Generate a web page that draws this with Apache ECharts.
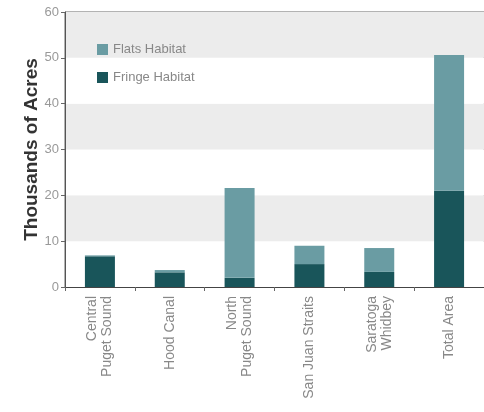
<!DOCTYPE html>
<html>
<head>
<meta charset="utf-8">
<script src="https://cdn.jsdelivr.net/npm/echarts@6/dist/echarts.min.js"></script>
<style>html,body{margin:0;padding:0;background:#fff}#c{width:484px;height:412px}</style>
</head>
<body>
<div id="c"></div>
<script>
var categories = ["Central\nPuget Sound", "Hood Canal", "North\nPuget Sound", "San Juan Straits", "Saratoga\nWhidbey", "Total Area"];
var fringeValues = [6.7, 3.2, 2.0, 5.0, 3.3, 21.0];
var flatsValues = [0.2, 0.5, 19.6, 4.0, 5.2, 29.6];
var yTicks = [0, 10, 20, 30, 40, 50, 60];

var chart = echarts.init(document.getElementById('c'));
chart.setOption({
  animation: false,
  grid: {left: 65, right: -2, top: 12, bottom: 125, show: true, borderColor: '#666', borderWidth: 1, backgroundColor: 'transparent'},
  legend: {
    orient: 'vertical', left: 92, top: 38, itemGap: 15,
    itemWidth: 11, itemHeight: 11, icon: 'rect',
    textStyle: {color: '#888', fontSize: 13, fontFamily: 'Liberation Sans'},
    data: ['Flats Habitat', 'Fringe Habitat']
  },
  xAxis: {
    type: 'category', data: categories,
    axisLine: {lineStyle: {color: '#444', width: 1}},
    axisTick: {show: true, alignWithLabel: false, length: 4, lineStyle: {color: '#666'}},
    axisLabel: {rotate: 90, color: '#888', fontSize: 14, fontFamily: 'Liberation Sans', margin: 9, lineHeight: 15, interval: 0}
  },
  yAxis: {
    type: 'value', min: 0, max: 60, interval: 10,
    name: 'Thousands of Acres', nameLocation: 'middle', nameGap: 24, nameMoveOverlap: false,
    nameTextStyle: {color: '#333', fontSize: 19, fontWeight: 'bold', fontFamily: 'Liberation Sans'},
    axisLine: {show: true, lineStyle: {color: '#555'}},
    axisTick: {show: true, length: 4, lineStyle: {color: '#666'}},
    axisLabel: {color: '#999', fontSize: 13, fontFamily: 'Liberation Sans', margin: 6,
      formatter: function (v) { return yTicks.indexOf(v) >= 0 ? String(v) : ''; }},
    splitLine: {show: false},
    splitArea: {show: true, areaStyle: {color: ['#ffffff', '#ececec']}}
  },
  series: [
    {name: 'Fringe Habitat', type: 'bar', stack: 'a', data: fringeValues, barWidth: 30,
      itemStyle: {color: '#19555a'}},
    {name: 'Flats Habitat', type: 'bar', stack: 'a', data: flatsValues, barWidth: 30,
      itemStyle: {color: '#6a9ca3'}}
  ]
});
</script>
</body>
</html>
